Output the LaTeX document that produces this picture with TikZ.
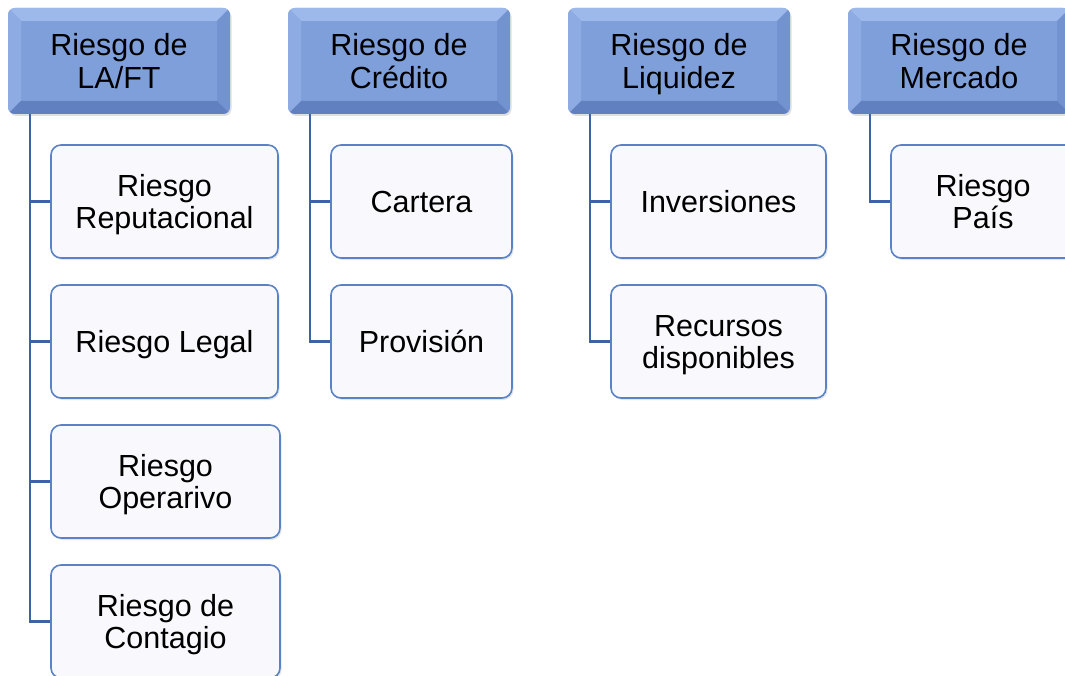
\documentclass[tikz,border=0pt]{standalone}
\usepackage{fontspec}
\setmainfont{Liberation Sans}
\usetikzlibrary{shadows}
\definecolor{hdmid}{HTML}{7F9FDB}
\definecolor{hdtop}{HTML}{9DB8EB}
\definecolor{hdleft}{HTML}{8EACE3}
\definecolor{hdright}{HTML}{7393D0}
\definecolor{hdbot}{HTML}{6080C0}
\definecolor{linec}{HTML}{3E62A6}
\definecolor{chborder}{HTML}{5A82C6}
\definecolor{chfill}{HTML}{F8F8FD}
\newcommand\xt{\rule{0pt}{28.8pt}}
\newcommand\xb{\rule[-7pt]{0pt}{7pt}}
\tikzset{
  x=1pt, y=-1pt,
  txt/.style={font=\fontsize{30.5}{32.5}\selectfont, align=center, text=black},
  head/.style={txt, rounded corners=7pt, minimum width=222pt, minimum height=106pt,
    fill=hdmid, inner sep=0pt,
    drop shadow={opacity=0.25, shadow xshift=1.5pt, shadow yshift=-2pt},
    path picture={
      \fill[hdtop, sharp corners] (path picture bounding box.north west) -- (path picture bounding box.north east)
        -- ([shift={(-13pt,-13pt)}]path picture bounding box.north east) -- ([shift={(13pt,-13pt)}]path picture bounding box.north west) -- cycle;
      \fill[hdleft, sharp corners] (path picture bounding box.north west) -- (path picture bounding box.south west)
        -- ([shift={(13pt,13pt)}]path picture bounding box.south west) -- ([shift={(13pt,-13pt)}]path picture bounding box.north west) -- cycle;
      \fill[hdright, sharp corners] (path picture bounding box.north east) -- (path picture bounding box.south east)
        -- ([shift={(-13pt,13pt)}]path picture bounding box.south east) -- ([shift={(-13pt,-13pt)}]path picture bounding box.north east) -- cycle;
      \fill[hdbot, sharp corners] (path picture bounding box.south west) -- (path picture bounding box.south east)
        -- ([shift={(-13pt,13pt)}]path picture bounding box.south east) -- ([shift={(13pt,13pt)}]path picture bounding box.south west) -- cycle;
    }},
  child/.style={txt, rounded corners=10pt, minimum height=113pt, inner sep=0pt,
    draw=chborder, line width=1.6pt, fill=chfill,
    drop shadow={opacity=0.2, shadow xshift=1.5pt, shadow yshift=-2pt}},
  conn/.style={draw=linec, line width=2.2pt}
}
\begin{document}
\begin{tikzpicture}
\useasboundingbox (0,0) rectangle (1065,676);
% headers
\node[head] (h1) at (119,61) {\xt Riesgo de\\LA/FT\xb};
\node[head] (h2) at (399,61) {\xt Riesgo de\\Crédito\xb};
\node[head] (h3) at (679,61) {\xt Riesgo de\\Liquidez\xb};
\node[head] (h4) at (959,61) {\xt Riesgo de\\Mercado\xb};
% trunk points
\coordinate (t1) at ([xshift=22pt]h1.south west);
\coordinate (t2) at ([xshift=22pt]h2.south west);
\coordinate (t3) at ([xshift=22pt]h3.south west);
\coordinate (t4) at ([xshift=22pt]h4.south west);
% children
\node[child, minimum width=227pt] (a1) at (164.5,201.5) {\xt Riesgo\\Reputacional\xb};
\node[child, minimum width=227pt] (a2) at (164.5,341.5) {\xt Riesgo Legal\xb};
\node[child, minimum width=229pt] (a3) at (165.5,481.5) {\xt Riesgo\\Operarivo\xb};
\node[child, minimum width=229pt] (a4) at (165.5,621.5) {\xt Riesgo de\\Contagio\xb};
\node[child, minimum width=181pt] (b1) at (421.5,201.5) {\xt Cartera\xb};
\node[child, minimum width=181pt] (b2) at (421.5,341.5) {\xt Provisión\xb};
\node[child, minimum width=215pt] (c1) at (718.5,201.5) {\xt Inversiones\xb};
\node[child, minimum width=215pt] (c2) at (718.5,341.5) {\xt Recursos\\disponibles\xb};
\node[child, minimum width=184pt] (d1) at (983,201.5) {\xt Riesgo\\País\xb};
% connectors
\draw[conn] (t1) |- (a1.west);
\draw[conn] (t1) |- (a2.west);
\draw[conn] (t1) |- (a3.west);
\draw[conn] (t1) |- (a4.west);
\draw[conn] (t2) |- (b1.west);
\draw[conn] (t2) |- (b2.west);
\draw[conn] (t3) |- (c1.west);
\draw[conn] (t3) |- (c2.west);
\draw[conn] (t4) |- (d1.west);
\end{tikzpicture}
\end{document}
